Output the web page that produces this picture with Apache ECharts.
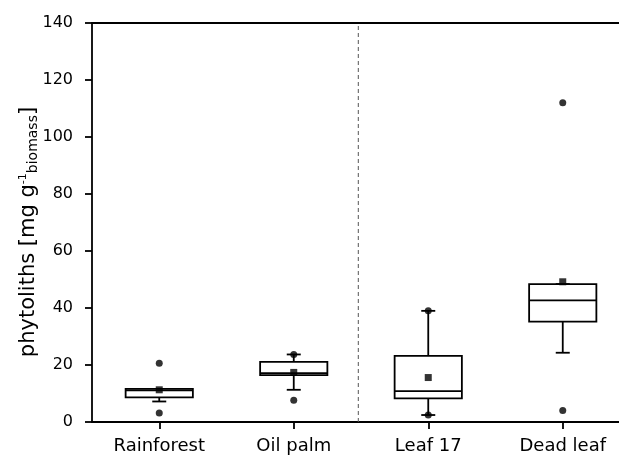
<!DOCTYPE html>
<html>
<head>
<meta charset="utf-8">
<script src="https://cdn.jsdelivr.net/npm/echarts@6/dist/echarts.min.js"></script>
<style>
  html, body { margin: 0; padding: 0; background: #fff; overflow: hidden; }
  #chart { width: 640px; height: 455px; }
</style>
</head>
<body>
<div id="chart"></div>
<script>
// categories and box statistics
var categories = ['Rainforest', 'Oil palm', 'Leaf 17', 'Dead leaf'];
var whiskerLow  = [7.2, 11.3, 2.45, 24.3];
var q1          = [8.65, 16.45, 8.3, 35.2];
var median      = [11.1, 17.15, 10.85, 42.7];
var q3          = [11.6, 21.1, 23.2, 48.4];
var whiskerHigh = [11.6, 23.7, 39.0, 48.4];
var means       = [11.3, 17.4, 15.6, 49.2];
var minPoints   = [3.15, 7.6, 2.45, 4.0];
var maxPoints   = [20.6, 23.7, 39.0, 112];

var dividerX = 1.98; // dashed separator, on the hidden 0..4 axis

var boxData = categories.map(function (c, i) {
    return [i, whiskerLow[i], q1[i], median[i], q3[i], whiskerHigh[i]];
});
var meanData = categories.map(function (c, i) { return [i, means[i]]; });
var extremeData = [];
categories.forEach(function (c, i) {
    extremeData.push([i, minPoints[i]]);
    extremeData.push([i, maxPoints[i]]);
});

var FONT = 'DejaVu Sans';
var INK = '#000';
var LW = 1.8;

function renderBox(params, api) {
    var i = api.value(0);
    var band = api.size([1, 0])[0];
    var half = band * 0.25;
    var cap = 7;
    var x = api.coord([i, 0])[0];
    var yLo = api.coord([i, api.value(1)])[1];
    var yQ1 = api.coord([i, api.value(2)])[1];
    var yMed = api.coord([i, api.value(3)])[1];
    var yQ3 = api.coord([i, api.value(4)])[1];
    var yHi = api.coord([i, api.value(5)])[1];
    var ls = { stroke: INK, lineWidth: LW };
    return {
        type: 'group',
        children: [
            { type: 'line', shape: { x1: x, y1: yLo, x2: x, y2: yQ1 }, style: ls },
            { type: 'line', shape: { x1: x, y1: yHi, x2: x, y2: yQ3 }, style: ls },
            { type: 'line', shape: { x1: x - cap, y1: yLo, x2: x + cap, y2: yLo }, style: ls },
            { type: 'line', shape: { x1: x - cap, y1: yHi, x2: x + cap, y2: yHi }, style: ls },
            { type: 'rect', shape: { x: x - half, y: yQ3, width: half * 2, height: yQ1 - yQ3 },
              style: { fill: '#fff', stroke: INK, lineWidth: LW } },
            { type: 'line', shape: { x1: x - half, y1: yMed, x2: x + half, y2: yMed }, style: ls }
        ]
    };
}

var chart = echarts.init(document.getElementById('chart'));
chart.setOption({
    animation: false,
    backgroundColor: '#fff',
    grid: { left: 92, top: 23, width: 538, height: 400 },
    xAxis: [
        {
            type: 'category',
            data: categories,
            position: 'bottom',
            axisLine: { show: true, lineStyle: { color: INK, width: LW } },
            axisTick: { show: true, alignWithLabel: true, length: 7, lineStyle: { color: INK, width: LW } },
            axisLabel: { color: '#000', fontFamily: FONT, fontSize: 18, margin: 15 },
            splitLine: { show: false }
        },
        {
            type: 'value',
            min: 0,
            max: 4,
            position: 'top',
            axisLine: { show: true, onZero: false, lineStyle: { color: INK, width: LW } },
            axisTick: { show: false },
            axisLabel: { show: false },
            splitLine: { show: false }
        }
    ],
    yAxis: {
        type: 'value',
        min: 0,
        max: 140,
        interval: 20,
        axisLine: { show: true, lineStyle: { color: INK, width: LW } },
        axisTick: { show: true, inside: false, length: 7, lineStyle: { color: INK, width: LW } },
        axisLabel: { color: '#000', fontFamily: FONT, fontSize: 16, margin: 19 },
        splitLine: { show: false }
    },
    graphic: [{
        type: 'text',
        x: 29,
        y: 232,
        rotation: Math.PI / 2,
        style: {
            text: '{a|phytoliths [mg g}{sup|-1}{sub|biomass}{a|]}',
            align: 'center',
            verticalAlign: 'middle',
            rich: {
                a: { fontFamily: FONT, fontSize: 21, lineHeight: 22, fill: '#000', verticalAlign: 'middle' },
                sup: { fontFamily: FONT, fontSize: 11, lineHeight: 22, fill: '#000', verticalAlign: 'top' },
                sub: { fontFamily: FONT, fontSize: 14, lineHeight: 22, fill: '#000', verticalAlign: 'bottom' }
            }
        }
    }],
    series: [
        {
            type: 'line',
            xAxisIndex: 1,
            data: [[dividerX, 0], [dividerX, 140]],
            symbol: 'none',
            silent: true,
            lineStyle: { color: '#555', width: 1, type: [4, 3] },
            z: 1
        },
        {
            type: 'custom',
            xAxisIndex: 0,
            renderItem: renderBox,
            data: boxData,
            encode: { x: 0, y: [1, 2, 3, 4, 5] },
            z: 2
        },
        {
            type: 'scatter',
            xAxisIndex: 0,
            data: meanData,
            symbol: 'rect',
            symbolSize: 7,
            itemStyle: { color: '#000' },
            z: 3
        },
        {
            type: 'scatter',
            xAxisIndex: 0,
            data: extremeData,
            symbol: 'circle',
            symbolSize: 7,
            itemStyle: { color: '#000' },
            z: 3
        }
    ]
});
</script>
</body>
</html>
